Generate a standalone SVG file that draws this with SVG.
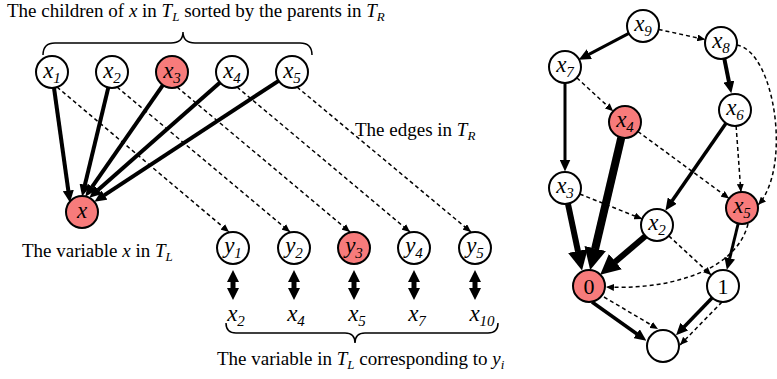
<svg xmlns="http://www.w3.org/2000/svg" width="777" height="379" viewBox="0 0 777 379">
<style>
text{font-family:"Liberation Serif","Times New Roman",serif;fill:#000}
.cap{font-size:19px}
.lbl{font-size:23px;font-style:italic;text-anchor:middle}
.num{font-size:22px;text-anchor:middle}
.it{font-style:italic}
.nd{fill:#fff;stroke:#000;stroke-width:2}
.hl{fill:#f77b7b}
.sl{stroke:#000;fill:none}
.ds{stroke:#000;fill:none;stroke-width:1.5;stroke-dasharray:4 3}
.br{stroke:#000;fill:none;stroke-width:1.5}
</style>
<defs>
<marker id="as" markerUnits="userSpaceOnUse" markerWidth="8" markerHeight="7" refX="8" refY="3.5" orient="auto"><path d="M0,0 L8,3.5 L0,7 z"/></marker>
<marker id="am" markerUnits="userSpaceOnUse" markerWidth="12" markerHeight="11" refX="0.5" refY="5.5" orient="auto"><path d="M0,0 L12,5.5 L0,11 z"/></marker>
<marker id="al" markerUnits="userSpaceOnUse" markerWidth="20" markerHeight="20" refX="0.5" refY="10" orient="auto"><path d="M0,0 L20,10 L0,20 z"/></marker>
<marker id="ax" markerUnits="userSpaceOnUse" markerWidth="22" markerHeight="22" refX="0.5" refY="11" orient="auto"><path d="M0,0 L22,11 L0,22 z"/></marker>
<path id="dbl" d="M0,0 L6,12 L2.5,12 L2.5,18 L6,18 L0,30 L-6,18 L-2.5,18 L-2.5,12 L-6,12 z"/>
</defs>

<g id="captions">
<text class="cap" x="7" y="17">The children of <tspan class="it">x</tspan> in <tspan class="it">T</tspan><tspan class="it" font-size="13" dy="4">L</tspan><tspan dy="-4"> sorted by the parents in </tspan><tspan class="it">T</tspan><tspan class="it" font-size="13" dy="4">R</tspan></text>
<text class="cap" x="355" y="136">The edges in <tspan class="it">T</tspan><tspan class="it" font-size="13" dy="4">R</tspan></text>
<text class="cap" x="22" y="257">The variable <tspan class="it">x</tspan> in <tspan class="it">T</tspan><tspan class="it" font-size="13" dy="4">L</tspan></text>
<text class="cap" x="217" y="365">The variable in <tspan class="it">T</tspan><tspan class="it" font-size="13" dy="4">L</tspan><tspan dy="-4"> corresponding to </tspan><tspan class="it">y</tspan><tspan class="it" font-size="13" dy="4">i</tspan></text>
<path class="br" d="M43,55 Q43,43 55,43 L171,43 Q183,43 183,32 Q183,43 195,43 L300,43 Q312,43 312,55"/>
<path class="br" d="M226,323 Q226,333 236,333 L345,333 Q355,333 355,343 Q355,333 365,333 L488,333 Q498,333 498,323"/>
</g>

<g id="connectors">
<line class="sl" stroke-width="4" x1="54" y1="87.9" x2="68.4" y2="191.1" marker-end="url(#am)"/>
<line class="sl" stroke-width="4" x1="108.3" y1="87.6" x2="84.8" y2="185.3" marker-end="url(#am)"/>
<line class="sl" stroke-width="4" x1="162.9" y1="85.1" x2="91.9" y2="187.2" marker-end="url(#am)"/>
<line class="sl" stroke-width="4" x1="220" y1="82.6" x2="98" y2="190.1" marker-end="url(#am)"/>
<line class="sl" stroke-width="4" x1="278.6" y1="80.8" x2="104" y2="195.4" marker-end="url(#am)"/>
<line class="ds" x1="57" y1="87" x2="229" y2="232" marker-end="url(#as)"/>
<line class="ds" x1="117" y1="87" x2="290" y2="232" marker-end="url(#as)"/>
<line class="ds" x1="177" y1="87" x2="350" y2="232" marker-end="url(#as)"/>
<line class="ds" x1="237" y1="87" x2="410" y2="232" marker-end="url(#as)"/>
<line class="ds" x1="297" y1="87" x2="471" y2="232" marker-end="url(#as)"/>
<use href="#dbl" x="233" y="270"/>
<use href="#dbl" x="294" y="270"/>
<use href="#dbl" x="354" y="270"/>
<use href="#dbl" x="414" y="270"/>
<use href="#dbl" x="475" y="270"/>
<line class="sl" stroke-width="3" x1="628.8" y1="33.4" x2="588.9" y2="54.4" marker-end="url(#am)"/>
<line class="ds" x1="658.6" y1="29.4" x2="705.3" y2="39.6" marker-end="url(#as)"/>
<line class="sl" stroke-width="3" x1="565" y1="83" x2="565" y2="160" marker-end="url(#am)"/>
<line class="ds" x1="576.8" y1="77.8" x2="613.2" y2="111.2" marker-end="url(#as)"/>
<line class="sl" stroke-width="4" x1="724.3" y1="58.7" x2="729" y2="82" marker-end="url(#am)"/>
<path class="ds" d="M737,45 C775,52 792,168 758,205" marker-end="url(#as)"/>
<line class="sl" stroke-width="3.5" x1="726" y1="123.2" x2="672" y2="201" marker-end="url(#am)"/>
<line class="ds" x1="736.1" y1="126" x2="740.9" y2="192" marker-end="url(#as)"/>
<line class="sl" stroke-width="8" x1="621.3" y1="137.6" x2="595.1" y2="249" marker-end="url(#ax)"/>
<line class="ds" x1="637.9" y1="131.5" x2="729.1" y2="198.5" marker-end="url(#as)"/>
<line class="sl" stroke-width="6" x1="568" y1="204" x2="578" y2="251.4" marker-end="url(#al)"/>
<line class="ds" x1="579.8" y1="194" x2="642.2" y2="219" marker-end="url(#as)"/>
<line class="sl" stroke-width="6" x1="645.5" y1="236" x2="615" y2="262" marker-end="url(#al)"/>
<line class="ds" x1="668.8" y1="235.9" x2="711.2" y2="275.1" marker-end="url(#as)"/>
<line class="sl" stroke-width="3" x1="738.2" y1="223.5" x2="729.6" y2="258.7" marker-end="url(#am)"/>
<path class="ds" d="M748,224 C735,275 660,290 606,287" marker-end="url(#as)"/>
<line class="sl" stroke-width="3.5" x1="592" y1="302" x2="637" y2="334" marker-end="url(#am)"/>
<line class="ds" x1="604" y1="297" x2="658" y2="329" marker-end="url(#as)"/>
<line class="sl" stroke-width="3.5" x1="712" y1="298" x2="684" y2="327" marker-end="url(#am)"/>
<line class="ds" x1="722" y1="302" x2="680" y2="345" marker-end="url(#as)"/>
</g>

<g id="L-x1"><circle class="nd" cx="52" cy="72" r="16"/><text class="lbl" x="52" y="78">x<tspan font-size="15" dy="5">1</tspan></text></g>
<g id="L-x2"><circle class="nd" cx="112" cy="72" r="16"/><text class="lbl" x="112" y="78">x<tspan font-size="15" dy="5">2</tspan></text></g>
<g id="L-x3"><circle class="nd hl" cx="172" cy="72" r="16"/><text class="lbl" x="172" y="78">x<tspan font-size="15" dy="5">3</tspan></text></g>
<g id="L-x4"><circle class="nd" cx="232" cy="72" r="16"/><text class="lbl" x="232" y="78">x<tspan font-size="15" dy="5">4</tspan></text></g>
<g id="L-x5"><circle class="nd" cx="292" cy="72" r="16"/><text class="lbl" x="292" y="78">x<tspan font-size="15" dy="5">5</tspan></text></g>
<g id="L-x"><circle class="nd hl" cx="82" cy="212" r="16"/><text class="lbl" x="82" y="218">x</text></g>
<g id="L-y1"><circle class="nd" cx="233" cy="248" r="16"/><text class="lbl" x="233" y="253">y<tspan font-size="15" dy="5">1</tspan></text></g>
<g id="L-y2"><circle class="nd" cx="294" cy="248" r="16"/><text class="lbl" x="294" y="253">y<tspan font-size="15" dy="5">2</tspan></text></g>
<g id="L-y3"><circle class="nd hl" cx="354" cy="248" r="16"/><text class="lbl" x="354" y="253">y<tspan font-size="15" dy="5">3</tspan></text></g>
<g id="L-y4"><circle class="nd" cx="414" cy="248" r="16"/><text class="lbl" x="414" y="253">y<tspan font-size="15" dy="5">4</tspan></text></g>
<g id="L-y5"><circle class="nd" cx="475" cy="248" r="16"/><text class="lbl" x="475" y="253">y<tspan font-size="15" dy="5">5</tspan></text></g>
<g id="map-labels">
<text class="lbl" x="236" y="321">x<tspan font-size="15" dy="5">2</tspan></text>
<text class="lbl" x="296" y="321">x<tspan font-size="15" dy="5">4</tspan></text>
<text class="lbl" x="357" y="321">x<tspan font-size="15" dy="5">5</tspan></text>
<text class="lbl" x="417" y="321">x<tspan font-size="15" dy="5">7</tspan></text>
<text class="lbl" x="482" y="321">x<tspan font-size="15" dy="5">10</tspan></text>
</g>

<g id="R-x9"><circle class="nd" cx="643" cy="26" r="16"/><text class="lbl" x="643" y="31">x<tspan font-size="15" dy="5">9</tspan></text></g>
<g id="R-x8"><circle class="nd" cx="721" cy="43" r="16"/><text class="lbl" x="721" y="48">x<tspan font-size="15" dy="5">8</tspan></text></g>
<g id="R-x7"><circle class="nd" cx="565" cy="67" r="16"/><text class="lbl" x="565" y="72">x<tspan font-size="15" dy="5">7</tspan></text></g>
<g id="R-x6"><circle class="nd" cx="735" cy="110" r="16"/><text class="lbl" x="735" y="115">x<tspan font-size="15" dy="5">6</tspan></text></g>
<g id="R-x4"><circle class="nd hl" cx="625" cy="122" r="16"/><text class="lbl" x="625" y="127">x<tspan font-size="15" dy="5">4</tspan></text></g>
<g id="R-x3"><circle class="nd" cx="565" cy="188" r="16"/><text class="lbl" x="565" y="193">x<tspan font-size="15" dy="5">3</tspan></text></g>
<g id="R-x2"><circle class="nd" cx="657" cy="225" r="16"/><text class="lbl" x="657" y="230">x<tspan font-size="15" dy="5">2</tspan></text></g>
<g id="R-x5"><circle class="nd hl" cx="742" cy="208" r="16"/><text class="lbl" x="742" y="213">x<tspan font-size="15" dy="5">5</tspan></text></g>
<g id="R-0"><circle class="nd hl" cx="589" cy="286" r="16"/><text class="num" x="589" y="294">0</text></g>
<g id="R-1"><circle class="nd" cx="723" cy="286" r="16"/><text class="num" x="723" y="294">1</text></g>
<g id="R-sink"><circle class="nd" cx="663" cy="346" r="16"/></g>
</svg>
